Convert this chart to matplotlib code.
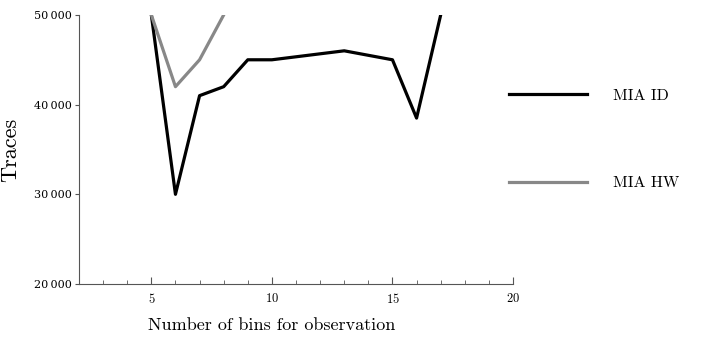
import matplotlib.pyplot as plt
import matplotlib.ticker as mticker

plt.rcParams['font.family'] = ['cmr10', 'DejaVu Serif']
plt.rcParams['axes.formatter.use_mathtext'] = True

bins_id = [5, 6, 7, 8, 9, 10, 13, 15, 16, 17]
traces_id = [50000, 30000, 41000, 42000, 45000, 45000, 46000, 45000, 38500, 50000]
bins_hw = [5, 6, 7, 8]
traces_hw = [50000, 42000, 45000, 50000]

y_ticks = [20000, 30000, 40000, 50000]
y_labels = ["20\u2009000", "30\u2009000", "40\u2009000", "50\u2009000"]
x_ticks = [5, 10, 15, 20]

fig = plt.figure(figsize=(7.08, 3.49), dpi=100)
ax = fig.add_axes([0.1116, 0.1862, 0.613, 0.771])

ax.plot(bins_id, traces_id, color="black", lw=2.3, label="MIA ID")
ax.plot(bins_hw, traces_hw, color="#888888", lw=2.3, label="MIA HW")

ax.set_xlim(2, 20)
ax.set_ylim(20000, 50000)
ax.set_xticks(x_ticks)
ax.xaxis.set_minor_locator(mticker.MultipleLocator(1))
ax.set_yticks(y_ticks)
ax.set_yticklabels(y_labels, family=['DejaVu Serif'], fontsize=8)
for lab in ax.get_xticklabels():
    lab.set_fontsize(9)

ax.spines['top'].set_visible(False)
ax.spines['right'].set_visible(False)
ax.spines['left'].set_color("#555555")
ax.spines['bottom'].set_color("#555555")
ax.tick_params(axis='x', which='both', direction='in', color="#555555", pad=6)
ax.tick_params(axis='x', which='major', length=5)
ax.tick_params(axis='x', which='minor', length=3)
ax.tick_params(axis='y', direction='out', length=3, color="#555555", pad=2)

ax.set_ylabel("Traces", fontsize=16)
ax.yaxis.set_label_coords(-0.135, 0.5)
ax.set_xlabel("Number of bins for observation", fontsize=13)
ax.xaxis.set_label_coords(0.445, -0.125)

ax.legend(loc="upper left", bbox_to_anchor=(0.991, 0.727), frameon=False,
          fontsize=11.5, handlelength=4.9, handletextpad=1.6, labelspacing=4.6,
          borderpad=0, borderaxespad=0)

fig.savefig("out.png", dpi=100)
